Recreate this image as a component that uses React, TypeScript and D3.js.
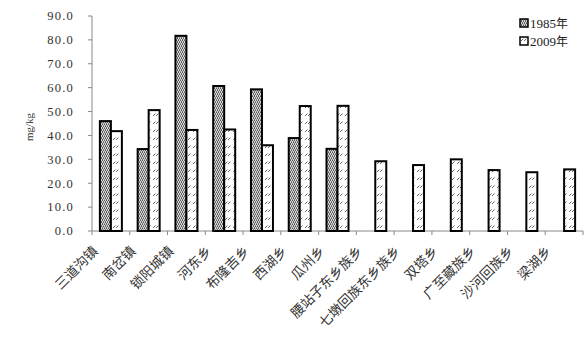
import React from "react";
import * as d3 from "d3";

const categories = ["三道沟镇", "南岔镇", "锁阳城镇", "河东乡", "布隆吉乡", "西湖乡", "瓜州乡", "腰站子东乡族乡", "七墩回族东乡族乡", "双塔乡", "广至藏族乡", "沙河回族乡", "梁湖乡"];
const values1985: (number | null)[] = [46.0, 34.3, 81.7, 60.7, 59.3, 38.9, 34.4, null, null, null, null, null, null];
const values2009: (number | null)[] = [41.8, 50.6, 42.3, 42.5, 35.9, 52.3, 52.4, 29.2, 27.6, 30.0, 25.5, 24.6, 25.8];
const seriesNames = ["1985年", "2009年"];
const yTicks = [0, 10, 20, 30, 40, 50, 60, 70, 80, 90];

const W = 587, H = 347;
const left = 92, right = 583, top = 16, bottom = 231;

export default function App() {
  const x = d3.scaleBand<string>().domain(categories).range([left, right]).paddingInner(0).paddingOuter(0);
  const y = d3.scaleLinear().domain([0, 90]).range([bottom, top]);
  const bw = x.bandwidth();
  const barW = 11;
  const fills = ["url(#p1985)", "url(#p2009)"];
  const serif = "'Liberation Serif', 'DejaVu Serif', serif";
  const cjk = "'Noto Sans CJK SC', sans-serif";
  return (
    <svg width={W} height={H} style={{ position: "absolute", left: 0, top: 0, background: "#fff" }} fontFamily={serif}>
      <defs>
        <pattern id="p1985" width="4" height="4" patternUnits="userSpaceOnUse">
          <rect width="4" height="4" fill="#d8d8d8" />
          <rect x="0" y="0" width="1" height="1" fill="#555" />
          <rect x="2" y="0" width="1" height="1" fill="#555" />
          <rect x="1" y="1" width="1" height="1" fill="#666" />
          <rect x="3" y="2" width="1" height="1" fill="#555" />
          <rect x="1" y="2" width="1" height="1" fill="#555" />
          <rect x="2" y="3" width="1" height="1" fill="#666" />
          <rect x="0" y="3" width="1" height="1" fill="#888" />
          <rect x="3" y="1" width="1" height="1" fill="#888" />
        </pattern>
        <pattern id="p2009" width="8" height="8" patternUnits="userSpaceOnUse">
          <rect width="8" height="8" fill="#fff" />
          <line x1="1" y1="4" x2="3.5" y2="1.5" stroke="#555" strokeWidth="0.9" />
          <line x1="4" y1="4" x2="6.5" y2="1.5" stroke="#555" strokeWidth="0.9" />
        </pattern>
      </defs>
      {/* y axis */}
      <line x1={left} y1={top} x2={left} y2={bottom} stroke="#888" strokeWidth={1} />
      {yTicks.map((t) => (
        <g key={t}>
          <line x1={left - 4} x2={left} y1={y(t)} y2={y(t)} stroke="#888" />
          <text x={74} y={y(t)} dy="0.35em" textAnchor="end" fontSize={12.5} fill="#333" letterSpacing={1.2}>
            {t.toFixed(1)}
          </text>
        </g>
      ))}
      <text transform={`translate(33,127) rotate(-90)`} textAnchor="middle" fontSize={11} fill="#333">mg/kg</text>
      {/* x axis */}
      <line x1={left} y1={bottom} x2={right} y2={bottom} stroke="#888" />
      {categories.map((c, i) => (
        <line key={"t" + i} x1={x(c)!} x2={x(c)!} y1={bottom} y2={bottom + 4} stroke="#888" />
      ))}
      <line x1={right} x2={right} y1={bottom} y2={bottom + 4} stroke="#888" />
      {/* bars */}
      {[values1985, values2009].map((vals, s) =>
        vals.map((v, i) => {
          if (v == null) return null;
          const cx = x(categories[i])! + bw / 2;
          const bx = cx - barW + s * barW;
          return (
            <rect key={s + "-" + i} x={bx} y={y(v)} width={barW} height={bottom - y(v)} fill={fills[s]} stroke="#000" strokeWidth={2} />
          );
        })
      )}
      {/* category labels */}
      {categories.map((c, i) => (
        <text key={"l" + i} transform={`translate(${x(c)! + bw / 2 - 12},${bottom + 21}) rotate(-45)`} textAnchor="end" fontSize={13.5} fontFamily={cjk} fill="#333">
          {c}
        </text>
      ))}
      {/* legend */}
      {seriesNames.map((n, i) => (
        <g key={n} transform={`translate(520,${19 + i * 18})`}>
          <rect x={0} y={0} width={8} height={8} fill={fills[i]} stroke="#000" strokeWidth={1.5} />
          <text x={10} y={4} dy="0.38em" fontSize={13} fill="#222">
            {n.replace("年", "")}
            <tspan fontFamily={cjk} fontSize={12}>年</tspan>
          </text>
        </g>
      ))}
    </svg>
  );
}
